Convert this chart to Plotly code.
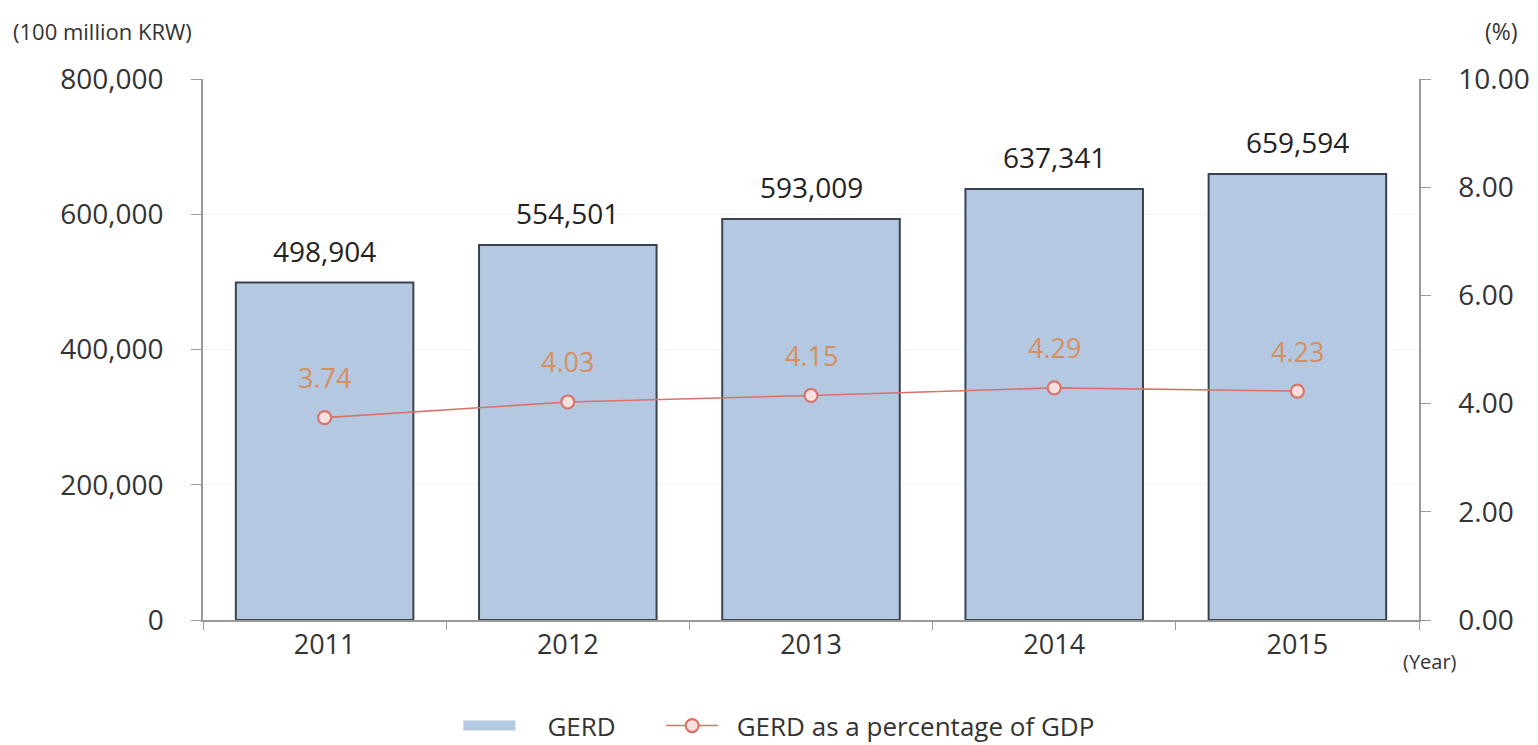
import plotly.graph_objects as go

years = ["2011", "2012", "2013", "2014", "2015"]
gerd = [498904, 554501, 593009, 637341, 659594]
gerd_pct = [3.74, 4.03, 4.15, 4.29, 4.23]
left_ticks = [0, 200000, 400000, 600000, 800000]
right_ticks = [0, 2, 4, 6, 8, 10]

FONT = "Open Sans, Noto Sans, sans-serif"
BAR_FILL = "#b5c8e1"
LINE_COL = "#d9736a"
NB = "\u00a0"

fig = go.Figure()
fig.add_trace(go.Bar(
    x=years, y=gerd, name="GERD", showlegend=False,
    marker=dict(color=BAR_FILL, line=dict(color="#3a4250", width=2)),
    width=0.73,
))
# legend entry for bars (wide flat swatch as in the reference)
fig.add_trace(go.Scatter(
    x=[years[0]], y=[None], name=NB * 4 + "GERD" + NB * 6, mode="lines",
    line=dict(color=BAR_FILL, width=14), hoverinfo="skip",
))
fig.add_trace(go.Scatter(
    x=years, y=gerd_pct, name=NB * 2 + "GERD as a percentage of GDP", yaxis="y2",
    mode="lines+markers",
    line=dict(color=LINE_COL, width=1.6),
    marker=dict(symbol="circle", size=13, color="#f8e0e0", line=dict(color=LINE_COL, width=2.2)),
    cliponaxis=False,
))

annotations = []
for i, v in enumerate(gerd):
    annotations.append(dict(x=i, y=v, xref="x", yref="y", text=f"{v:,}", showarrow=False,
                            yshift=32, yanchor="middle",
                            font=dict(size=28, color="#222222", family=FONT)))
for i, v in enumerate(gerd_pct):
    annotations.append(dict(x=i, y=v, xref="x", yref="y2", text=f"{v:.2f}", showarrow=False,
                            yshift=40, yanchor="middle",
                            font=dict(size=27, color="#d48f60", family=FONT)))
annotations += [
    dict(text="(100 million KRW)", xref="paper", yref="paper", x=-0.158, y=1.088,
         xanchor="left", yanchor="middle", showarrow=False,
         font=dict(size=22, color="#333333")),
    dict(text="(%)", xref="paper", yref="paper", x=1.083, y=1.088,
         xanchor="right", yanchor="middle", showarrow=False,
         font=dict(size=23, color="#333333")),
    dict(text="(Year)", xref="paper", yref="paper", x=0.985, y=-0.077,
         xanchor="left", yanchor="middle", showarrow=False,
         font=dict(size=20, color="#333333")),
]

fig.update_layout(
    width=1538, height=745,
    margin=dict(l=203, r=119, t=79, b=125, autoexpand=False),
    paper_bgcolor="white", plot_bgcolor="white",
    font=dict(family=FONT, color="#333333"),
    showlegend=True,
    legend=dict(orientation="h", x=0.21, xanchor="left", xref="paper",
                y=0.026, yanchor="middle", yref="container",
                font=dict(size=26, color="#333333"), itemwidth=52, tracegroupgap=0),
    xaxis=dict(
        type="category", categoryorder="array", categoryarray=years, range=[-0.5, 4.5],
        showline=True, linecolor="#9a9a9a", linewidth=1.5, automargin=False,
        ticks="outside", tickcolor="#9a9a9a", ticklen=8, tickson="boundaries",
        tickfont=dict(size=27, color="#333333"), showgrid=False,
    ),
    yaxis=dict(
        range=[0, 800000], tickvals=left_ticks, ticktext=[f"{v:,}" for v in left_ticks],
        showline=True, linecolor="#9a9a9a", linewidth=1.5, automargin=False,
        ticks="outside", tickcolor="#9a9a9a", ticklen=10, ticklabelstandoff=22,
        tickfont=dict(size=28, color="#333333"),
        showgrid=True, gridcolor="#f3f3f3", zeroline=False,
    ),
    yaxis2=dict(
        range=[0, 10], tickvals=right_ticks, ticktext=[f"{v:.2f}" for v in right_ticks],
        overlaying="y", side="right", automargin=False,
        showline=True, linecolor="#9a9a9a", linewidth=1.5,
        ticks="outside", tickcolor="#9a9a9a", ticklen=10, ticklabelstandoff=22,
        tickfont=dict(size=28, color="#333333"), showgrid=False, zeroline=False,
    ),
    annotations=annotations,
)

fig.write_html("out.html")
